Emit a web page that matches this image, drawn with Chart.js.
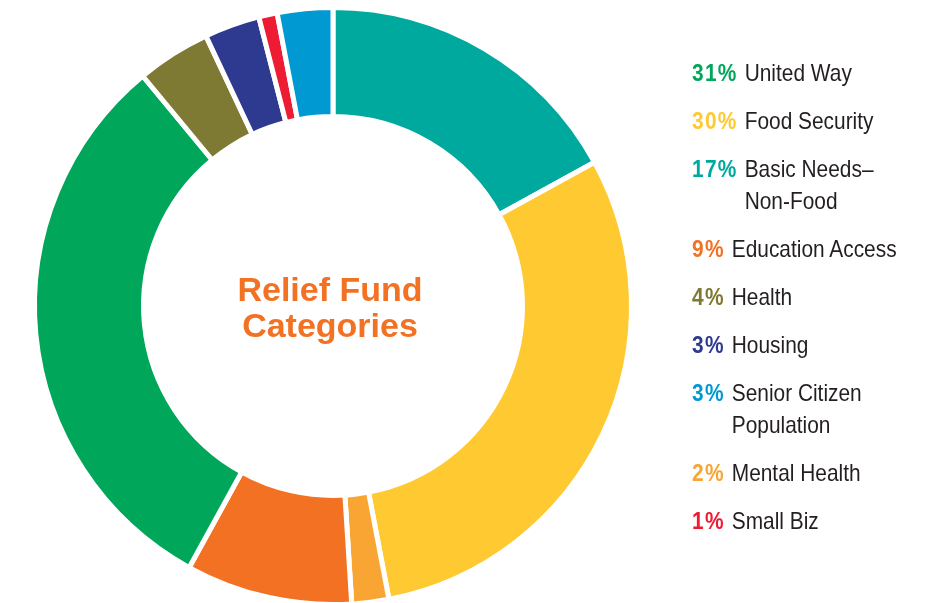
<!DOCTYPE html>
<html><head><meta charset="utf-8">
<script src="https://cdn.jsdelivr.net/npm/chart.js@4/dist/chart.umd.min.js"></script>
<style>
html,body{margin:0;padding:0;background:#fff;width:930px;height:603px;overflow:hidden;}
#wrap{position:absolute;left:0;top:0;width:930px;height:603px;}
#legend{position:absolute;left:692px;top:56.7px;font-family:"Liberation Sans",Arial,sans-serif;font-size:24px;line-height:32px;color:#231f20;transform:scaleX(0.87);transform-origin:0 0;}
.row{display:flex;margin-bottom:16px;white-space:nowrap;}
.pct{font-weight:bold;letter-spacing:1.5px;margin-right:8px;}
.lab div{display:block;}
</style></head>
<body>
<div id="wrap"><canvas id="c" width="930" height="603"></canvas></div>
<div id="legend"></div>
<script>
const categories = [['Basic Needs–','Non-Food'], ['Food Security'], ['Mental Health'], ['Education Access'], ['United Way'], ['Health'], ['Housing'], ['Small Biz'], ['Senior Citizen','Population']];
const values = [17, 30, 2, 9, 31, 4, 3, 1, 3];
const colors = ['#00A99D', '#FFC931', '#F9A533', '#F37123', '#00A65A', '#7F7A33', '#2E3A8F', '#ED1B34', '#0099D2'];
const titleLines = ['Relief Fund', 'Categories'];

// legend (sorted by share, stable)
const order = values.map((v, i) => i).sort((a, b) => values[b] - values[a] || a - b);
const legend = document.getElementById('legend');
order.forEach(i => {
  const row = document.createElement('div');
  row.className = 'row';
  const p = document.createElement('span');
  p.className = 'pct';
  p.style.color = colors[i];
  p.textContent = values[i] + '%';
  const lab = document.createElement('span');
  lab.className = 'lab';
  categories[i].forEach(t => { const d = document.createElement('div'); d.textContent = t; lab.appendChild(d); });
  row.appendChild(p); row.appendChild(lab);
  legend.appendChild(row);
});

const centerTitle = {
  id: 'centerTitle',
  afterDraw(chart) {
    const arc = chart.getDatasetMeta(0).data[0];
    const ctx = chart.ctx;
    ctx.save();
    ctx.font = 'bold 34px "Liberation Sans", Arial, sans-serif';
    ctx.fillStyle = '#F37123';
    ctx.textAlign = 'center';
    ctx.textBaseline = 'alphabetic';
    ctx.fillText(titleLines[0], arc.x - 3, arc.y - 5.3);
    ctx.fillText(titleLines[1], arc.x - 3, arc.y + 30.7);
    ctx.restore();
  }
};

new Chart(document.getElementById('c'), {
  type: 'doughnut',
  data: {
    labels: categories.map(c => c.join(' ')),
    datasets: [{
      data: values,
      backgroundColor: colors,
      borderColor: '#ffffff',
      borderWidth: 5,
      hoverOffset: 0
    }]
  },
  options: {
    responsive: false,
    animation: false,
    radius: 298.5,
    cutout: '63.48%',
    layout: { padding: { top: 9, right: 264, left: 0, bottom: 0 } },
    plugins: { legend: { display: false }, tooltip: { enabled: false } }
  },
  plugins: [centerTitle]
});
</script>
</body></html>
